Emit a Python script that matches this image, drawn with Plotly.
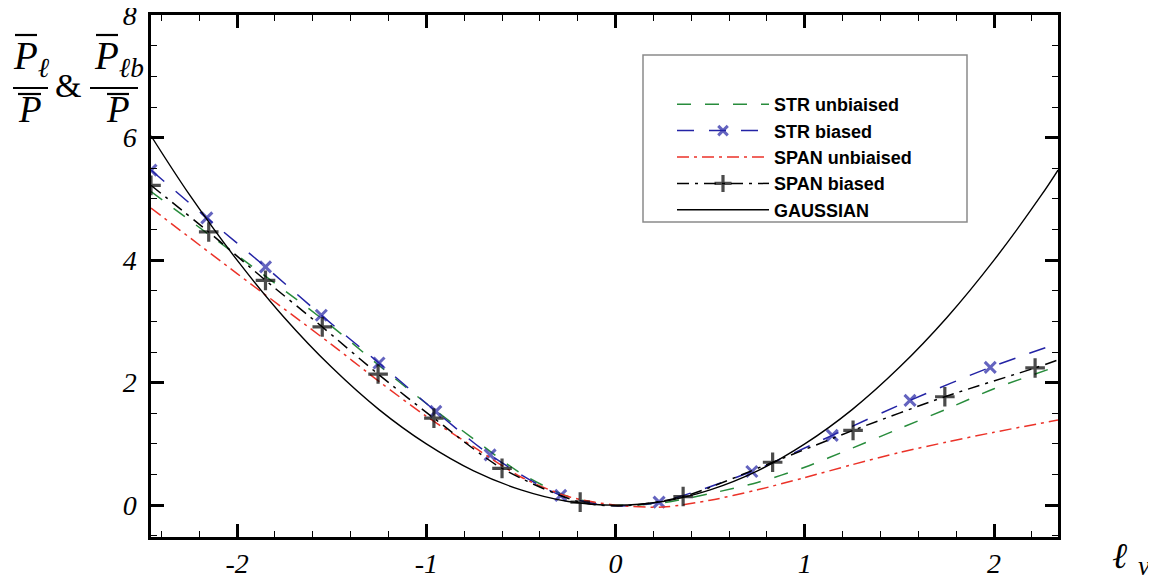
import plotly.graph_objects as go

# ---------------- data ----------------
gauss_x = [-2.455, -2.25, -2.0, -1.75, -1.5, -1.25, -1.0, -0.75, -0.5, -0.25, 0.0,
           0.25, 0.5, 0.75, 1.0, 1.25, 1.5, 1.75, 2.0, 2.25, 2.338]
gauss_y = [6.03, 5.06, 4.0, 3.06, 2.25, 1.56, 1.0, 0.56, 0.25, 0.06, 0.0,
           0.06, 0.25, 0.56, 1.0, 1.56, 2.25, 3.06, 4.0, 5.06, 5.47]

str_unb_x = [-2.455, -2.15, -2.0, -1.5, -1.25, -1.0, -0.75, -0.5, -0.25, 0.0,
             0.25, 0.5, 0.75, 1.0, 1.25, 1.5, 1.75, 2.0, 2.338]
str_unb_y = [5.12, 4.42, 4.08, 2.92, 2.28, 1.66, 1.08, 0.52, 0.14, 0.0,
             0.04, 0.19, 0.37, 0.62, 0.93, 1.25, 1.57, 1.9, 2.27]

str_b_x = [-2.455, -2.16, -1.85, -1.555, -1.25, -0.95, -0.663, -0.29, 0.0, 0.23,
           0.72, 1.145, 1.556, 1.98, 2.338]
str_b_y = [5.47, 4.69, 3.89, 3.10, 2.32, 1.53, 0.82, 0.16, -0.01, 0.05,
           0.55, 1.14, 1.71, 2.25, 2.64]
str_b_mark = [1, 1, 1, 1, 1, 1, 1, 1, 0, 1, 1, 1, 1, 1, 0]

span_unb_x = [-2.455, -2.0, -1.5, -1.25, -1.0, -0.75, -0.5, -0.25, 0.0, 0.25,
              0.5, 0.75, 1.0, 1.25, 1.5, 1.75, 2.0, 2.338]
span_unb_y = [4.85, 3.78, 2.62, 2.02, 1.45, 0.95, 0.46, 0.14, 0.0, -0.03,
              0.08, 0.25, 0.45, 0.66, 0.86, 1.03, 1.19, 1.39]

span_b_x = [-2.455, -2.15, -1.85, -1.55, -1.255, -0.96, -0.60, -0.187, 0.05,
            0.357, 0.83, 1.255, 1.74, 2.217, 2.338]
span_b_y = [5.22, 4.46, 3.67, 2.91, 2.14, 1.42, 0.60, 0.05, -0.01,
            0.14, 0.70, 1.22, 1.77, 2.24, 2.37]
span_b_mark = [1, 1, 1, 1, 1, 1, 1, 1, 0, 1, 1, 1, 1, 1, 0]

x_tick_vals = [-2, -1, 0, 1, 2]
x_tick_text = ["-2", "-1", "0", "1", "2"]
y_tick_vals = [0, 2, 4, 6, 8]
y_tick_text = ["0", "2", "4", "6", "8"]

legend_names = ["STR unbiaised", "STR biased", "SPAN unbiaised", "SPAN biased", "GAUSSIAN"]

# ---------------- figure ----------------
OFF = 8  # default page body margin
W, H = 1156 - OFF, 581 - OFF
ML, MT = 151 - OFF, 15 - OFF
MR = W - (1058 - OFF)
MB = H - (537 - OFF)
PW, PH = W - ML - MR, H - MT - MB


def px(x):
    """screen pixel x -> paper coordinate"""
    return (x - OFF - ML) / PW


def py(y):
    """screen pixel y -> paper coordinate"""
    return (H - MB - (y - OFF)) / PH


GREEN = "rgb(40,140,60)"
BLUE = "rgb(35,35,165)"
RED = "rgb(235,50,40)"

fig = go.Figure()

fig.add_trace(go.Scatter(
    x=str_unb_x, y=str_unb_y, mode="lines", name=legend_names[0],
    line=dict(color=GREEN, width=1.5, dash="14px,14px", shape="spline", smoothing=0.8)))

fig.add_trace(go.Scatter(
    x=str_b_x, y=str_b_y, mode="lines+markers", name=legend_names[1],
    line=dict(color=BLUE, width=1.5, dash="17px,15px", shape="spline", smoothing=0.8),
    marker=dict(symbol="x-thin", size=[11 * m for m in str_b_mark], color=BLUE,
                line=dict(color=BLUE, width=3))))

fig.add_trace(go.Scatter(
    x=span_unb_x, y=span_unb_y, mode="lines", name=legend_names[2],
    line=dict(color=RED, width=1.5, dash="12px,5px,3px,5px", shape="spline", smoothing=0.8)))

fig.add_trace(go.Scatter(
    x=span_b_x, y=span_b_y, mode="lines+markers", name=legend_names[3],
    line=dict(color="black", width=1.5, dash="12px,6px,3px,6px", shape="spline", smoothing=0.8),
    marker=dict(symbol="cross-thin", size=[14 * m for m in span_b_mark], color="black",
                line=dict(color="black", width=3.2))))

fig.add_trace(go.Scatter(
    x=gauss_x, y=gauss_y, mode="lines", name=legend_names[4],
    line=dict(color="black", width=1.4, shape="spline", smoothing=1.0)))

tickfont = dict(family="Liberation Serif", size=28, color="black", style="italic")

fig.update_xaxes(
    range=[-2.455, 2.338], showgrid=False, zeroline=False,
    showline=True, linecolor="black", linewidth=2.5, mirror="ticks",
    ticks="inside", ticklen=13, tickwidth=2.5, tickcolor="black",
    tickvals=x_tick_vals, ticktext=x_tick_text, tickfont=tickfont,
    ticklabeloverflow="allow",
    minor=dict(ticks="inside", ticklen=6, tickwidth=1.3, tickcolor="black", dtick=0.2,
               showgrid=False),
)
fig.update_yaxes(
    range=[-0.52, 8.002], showgrid=False, zeroline=False,
    showline=True, linecolor="black", linewidth=2.5, mirror="ticks",
    ticks="inside", ticklen=13, tickwidth=2.5, tickcolor="black",
    tickvals=y_tick_vals, ticktext=y_tick_text, tickfont=tickfont,
    ticklabelstandoff=6, ticklabeloverflow="allow",
    minor=dict(ticks="inside", ticklen=6, tickwidth=1.3, tickcolor="black", dtick=0.5,
               showgrid=False),
)

# legend frame
fig.add_shape(type="rect", xref="paper", yref="paper",
              x0=px(643), x1=px(967), y0=py(222), y1=py(55),
              line=dict(color="#8a8a8a", width=1.5), fillcolor="white", layer="below")

anns = []


def ann(text, x, y, size, style="italic", xanchor="center"):
    anns.append(dict(text=text, x=px(x), y=py(y), xref="paper", yref="paper",
                     xanchor=xanchor, yanchor="middle", showarrow=False, borderpad=0,
                     font=dict(family="Liberation Serif", size=size, color="black", style=style)))


def bar(x0, x1, y, w=2.2):
    fig.add_shape(type="line", xref="paper", yref="paper",
                  x0=px(x0), x1=px(x1), y0=py(y), y1=py(y),
                  line=dict(color="black", width=w))


# y-axis label: Pl/P & Plb/P with overbars
ann("P<sub>ℓ</sub>", 12, 58, 39, xanchor="left")
ann("P", 30, 110, 37)
ann("&amp;", 68, 85, 34, style="normal")
ann("P<sub>ℓb</sub>", 93, 58, 39, xanchor="left")
ann("P", 118, 110, 37)
bar(15, 37, 35)
bar(13, 48, 88)
bar(18, 41, 94)
bar(96, 118, 35)
bar(90, 138, 88)
bar(107, 129, 94)

# x-axis label
ann("ℓ", 1119, 556, 36)
ann("ν", 1144, 566, 27)

fig.update_layout(
    width=W, height=H,
    margin=dict(l=ML, r=MR, t=MT, b=MB, pad=0, autoexpand=False),
    paper_bgcolor="white", plot_bgcolor="white",
    showlegend=True,
    legend=dict(x=px(672), y=py(86), xanchor="left", yanchor="top",
                bgcolor="rgba(0,0,0,0)", borderwidth=0,
                font=dict(family="Liberation Sans", size=18, color="black", weight="bold"),
                tracegroupgap=0, itemwidth=92),
    annotations=anns,
)

fig.write_html("out.html")
